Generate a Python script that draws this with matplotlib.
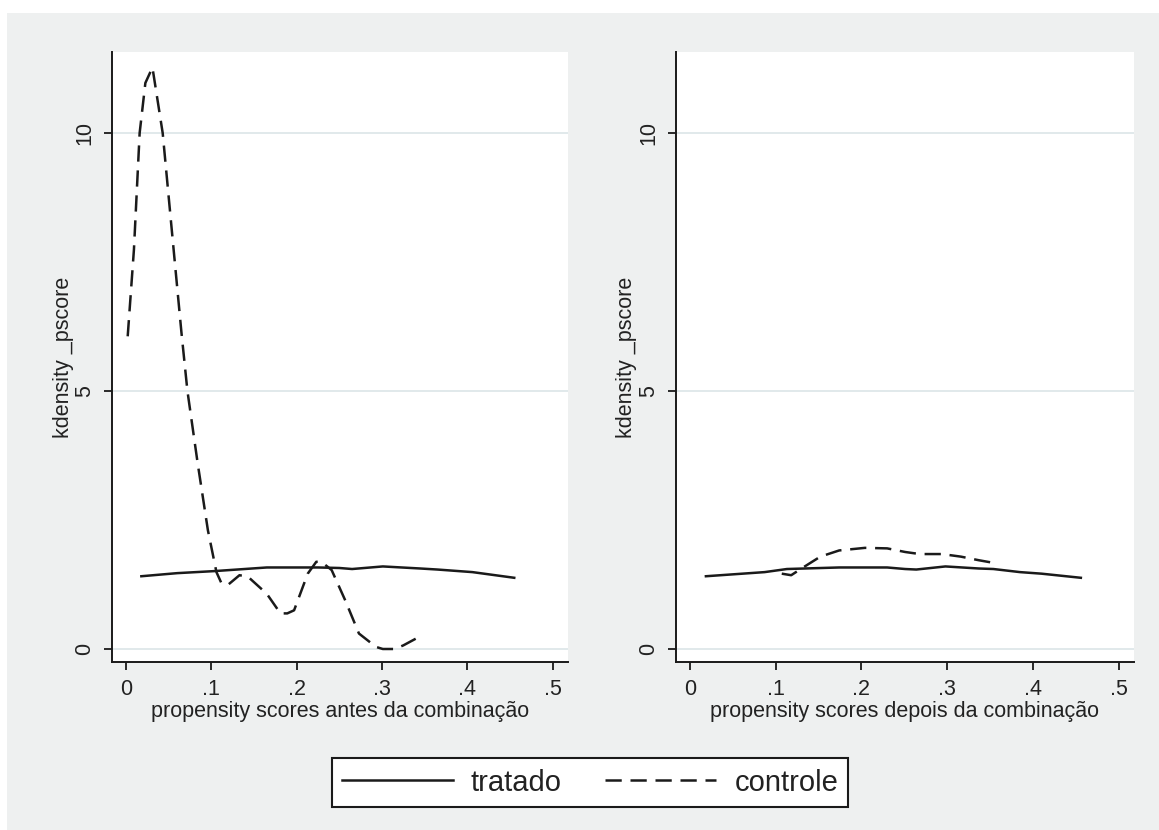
import matplotlib
matplotlib.use('Agg')
import matplotlib.pyplot as plt
from matplotlib.patches import Rectangle
from matplotlib.lines import Line2D

plt.rcParams['font.family'] = ['Liberation Sans', 'DejaVu Sans']

# densidades antes da combinacao
antes_trat_x = [0.018, 0.06, 0.104, 0.165, 0.225, 0.25, 0.265, 0.301, 0.345, 0.365, 0.406, 0.455]
antes_trat_y = [1.41, 1.47, 1.51, 1.58, 1.58, 1.57, 1.55, 1.60, 1.56, 1.54, 1.49, 1.38]
antes_ctrl_x = [0.002, 0.0093, 0.016, 0.0227, 0.031, 0.043, 0.054, 0.065, 0.072, 0.084, 0.096,
                0.106, 0.112, 0.120, 0.133, 0.143, 0.165, 0.181, 0.189, 0.197, 0.213, 0.223,
                0.229, 0.241, 0.257, 0.273, 0.293, 0.301, 0.315, 0.325, 0.343]
antes_ctrl_y = [6.06, 7.74, 10.0, 10.97, 11.27, 10.0, 8.06, 6.13, 5.0, 3.6, 2.3,
                1.49, 1.27, 1.25, 1.43, 1.40, 1.07, 0.69, 0.69, 0.75, 1.46, 1.69,
                1.69, 1.53, 0.94, 0.30, 0.04, 0.0, 0.0, 0.07, 0.23]

# densidades depois da combinacao
depois_trat_x = [0.0185, 0.087, 0.113, 0.174, 0.230, 0.251, 0.264, 0.298, 0.337, 0.354, 0.385, 0.410, 0.456]
depois_trat_y = [1.41, 1.49, 1.55, 1.58, 1.58, 1.55, 1.54, 1.60, 1.56, 1.55, 1.49, 1.46, 1.38]
depois_ctrl_x = [0.107, 0.118, 0.130, 0.152, 0.174, 0.204, 0.230, 0.251, 0.268, 0.294, 0.316, 0.337, 0.354]
depois_ctrl_y = [1.46, 1.43, 1.56, 1.79, 1.91, 1.96, 1.95, 1.88, 1.84, 1.84, 1.79, 1.72, 1.67]

xticks = [0, 0.1, 0.2, 0.3, 0.4, 0.5]
xtick_labels = ['0', '.1', '.2', '.3', '.4', '.5']
yticks = [0, 5, 10]
ytick_labels = ['0', '5', '10']

W, H = 1159, 830
fig = plt.figure(figsize=(W / 100, H / 100), dpi=100)
fig.patch.set_facecolor('white')
fig.add_artist(Rectangle((7 / W, 0), 1 - 7 / W, 1 - 13 / H, transform=fig.transFigure,
                         facecolor='#eef0f0', edgecolor='none', zorder=-5))

ink = '#1a1a1a'
dash = (0, (6.5, 3.5))


def panel(ax, tx, ty, cx, cy, xlabel):
    ax.set_facecolor('white')
    ax.plot(tx, ty, color=ink, lw=1.8, solid_joinstyle='round')
    ax.plot(cx, cy, color=ink, lw=1.8, linestyle=dash)
    ax.set_xlim(-0.0164, 0.518)
    ax.set_ylim(-0.252, 11.57)
    for s in ['top', 'right']:
        ax.spines[s].set_visible(False)
    for s in ['left', 'bottom']:
        ax.spines[s].set_linewidth(1.4)
        ax.spines[s].set_color(ink)
    ax.set_xticks(xticks)
    ax.set_xticklabels(xtick_labels)
    ax.set_yticks(yticks)
    ax.set_yticklabels(ytick_labels, rotation=90, va='center')
    ax.tick_params(length=6, width=1.3, color=ink, labelsize=15.5, labelcolor='#222222', pad=6)
    ax.grid(axis='y', color='#dce5e8', lw=1.2)
    ax.set_axisbelow(True)
    ax.set_xlabel(xlabel, fontsize=15.5, color='#222222', va='center')
    ax.xaxis.set_label_coords(0.5, -50 / 610)
    ax.set_ylabel('kdensity _pscore', fontsize=15.5, color='#222222', va='center')
    ax.yaxis.set_label_coords(-49 / 456, 0.5)


axL = fig.add_axes([112 / W, 1 - 662 / H, 456 / W, 610 / H])
panel(axL, antes_trat_x, antes_trat_y, antes_ctrl_x, antes_ctrl_y,
      'propensity scores antes da combinação')

axR = fig.add_axes([676 / W, 1 - 662 / H, 458 / W, 610 / H])
panel(axR, depois_trat_x, depois_trat_y, depois_ctrl_x, depois_ctrl_y,
      'propensity scores depois da combinação')

h1 = Line2D([], [], color=ink, lw=1.8, label='tratado')
h2 = Line2D([], [], color=ink, lw=1.8, linestyle=dash, label='controle')
leg = fig.legend(handles=[h1, h2], loc='center', bbox_to_anchor=(590 / W, 1 - 782.5 / H),
                 ncol=2, fontsize=21, handlelength=3.8, handletextpad=0.62,
                 columnspacing=1.5, borderpad=0.35, fancybox=False, framealpha=1,
                 facecolor='white', edgecolor=ink)
leg.get_frame().set_linewidth(1.5)
for t in leg.get_texts():
    t.set_color('#222222')

fig.savefig('out.png', dpi=100)
